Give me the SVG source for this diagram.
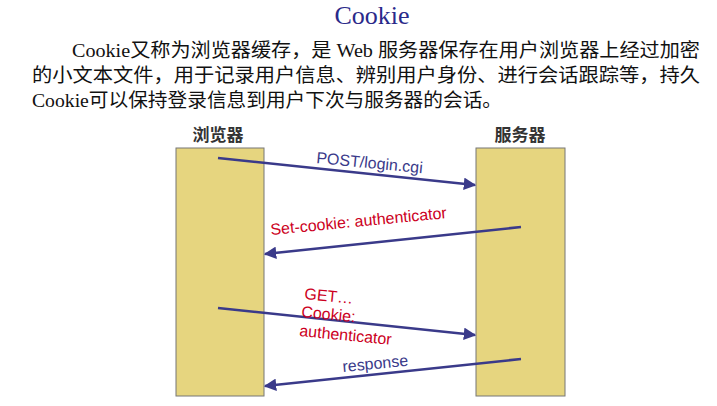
<svg xmlns="http://www.w3.org/2000/svg" width="717" height="406" viewBox="0 0 717 406">
<defs>
<style>
.p{font-family:"Liberation Serif","Noto Sans CJK SC",serif;font-size:19px;fill:#111}
.h{font-family:"Liberation Sans","Noto Sans CJK SC",sans-serif;font-size:17px;font-weight:bold;fill:#333}
.box{fill:#e6d57f;stroke:#777;stroke-width:1}
.c{stroke:#3a3a8a;stroke-width:2.5;fill:none;marker-end:url(#ah)}
.b{font-family:"Liberation Sans",sans-serif;font-size:16px;fill:#3a3a8a}
.r{font-family:"Liberation Sans",sans-serif;font-size:16px;fill:#cc0022}
</style>
<marker id="ah" viewBox="0 0 10 10" refX="9" refY="5" markerWidth="5" markerHeight="5" orient="auto"><path d="M0,0L10,5L0,10z" fill="#3a3a8a"/></marker>
</defs>
<rect width="717" height="406" fill="#fff"/>
<text x="372" y="24" text-anchor="middle" font-family="Liberation Serif,serif" font-size="26" fill="#2a2a8a">Cookie</text>
<text class="p" x="72" y="57" textLength="628" lengthAdjust="spacingAndGlyphs">Cookie又称为浏览器缓存，是 Web 服务器保存在用户浏览器上经过加密</text>
<text class="p" x="32" y="82" textLength="668" lengthAdjust="spacingAndGlyphs">的小文本文件，用于记录用户信息、辨别用户身份、进行会话跟踪等，持久</text>
<text class="p" x="32" y="107" textLength="470" lengthAdjust="spacingAndGlyphs">Cookie可以保持登录信息到用户下次与服务器的会话。</text>
<g id="browser"><text class="h" x="218" y="141" text-anchor="middle">浏览器</text><rect class="box" x="176" y="148" width="88" height="248"/></g>
<g id="server"><text class="h" x="520" y="141" text-anchor="middle">服务器</text><rect class="box" x="476" y="148" width="89" height="248"/></g>
<g id="connectors">
<line class="c" x1="218" y1="158" x2="475" y2="185"/>
<line class="c" x1="521" y1="227" x2="265" y2="254"/>
<line class="c" x1="218" y1="308" x2="475" y2="335"/>
<line class="c" x1="521" y1="359" x2="265" y2="386"/>
</g>
<g id="labels">
<text class="b" transform="translate(316,163) rotate(5.5)">POST/login.cgi</text>
<text class="r" transform="translate(271,235) rotate(-5.5)">Set-cookie: authenticator</text>
<text class="r" transform="translate(304,299) rotate(5.5)">GET…</text>
<text class="r" transform="translate(301,317) rotate(5.5)">Cookie:</text>
<text class="r" transform="translate(299,336) rotate(5.5)">authenticator</text>
<text class="b" transform="translate(343,372) rotate(-5.5)">response</text>
</g>
</svg>
